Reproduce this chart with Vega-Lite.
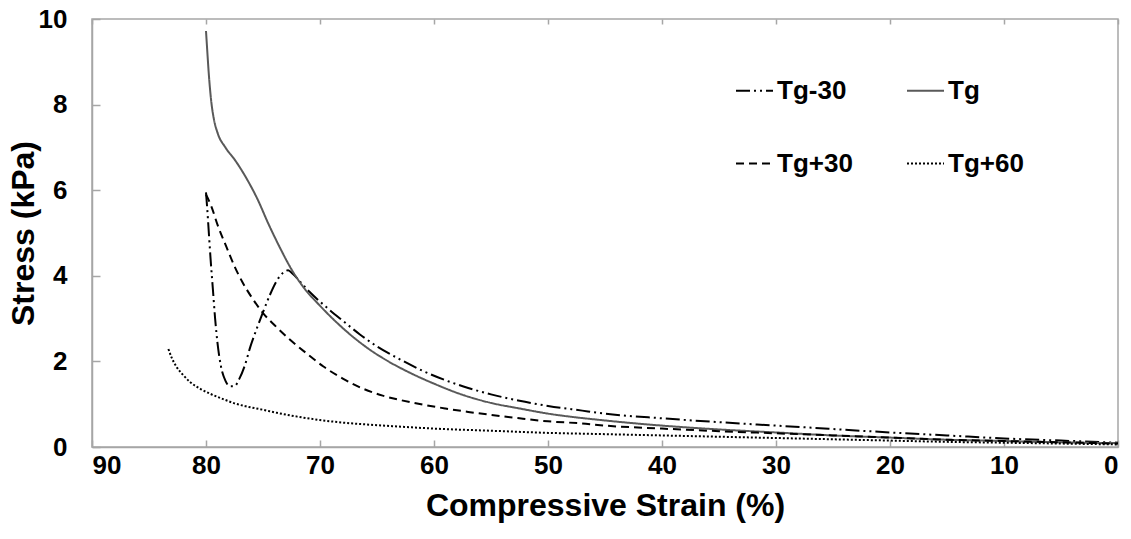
{
  "$schema": "https://vega.github.io/schema/vega-lite/v6.json",
  "width": 1026,
  "height": 428,
  "autosize": {"type": "none"},
  "padding": {"left": 92, "top": 19, "right": 13, "bottom": 92},
  "background": "white",
  "config": {
    "font": "Liberation Sans",
    "view": {"stroke": "#a6a6a6", "strokeWidth": 1.5},
    "axis": {
      "grid": false,
      "domainColor": "#a6a6a6",
      "domainWidth": 1.5,
      "tickColor": "#a6a6a6",
      "tickWidth": 1.5,
      "labelFont": "Liberation Sans",
      "labelFontWeight": "bold",
      "labelFontSize": 26,
      "labelColor": "#000000",
      "titleFont": "Liberation Sans",
      "titleFontWeight": "bold",
      "titleFontSize": 32,
      "titleColor": "#000000"
    },
    "legend": {
      "orient": "none",
      "legendX": 643,
      "legendY": 52,
      "columns": 2,
      "columnPadding": 50,
      "rowPadding": 40,
      "padding": 0,
      "symbolType": "stroke",
      "symbolSize": 1369,
      "labelOffset": 3,
      "labelFont": "Liberation Sans",
      "labelFontWeight": "bold",
      "labelFontSize": 26,
      "labelColor": "#000000",
      "labelLimit": 300
    }
  },
  "data": {
    "values": [
      {"s": "Tg-30", "i": 0, "x": 80.0, "y": 5.95},
      {"s": "Tg-30", "i": 1, "x": 79.9, "y": 5.6},
      {"s": "Tg-30", "i": 2, "x": 79.75, "y": 5.0},
      {"s": "Tg-30", "i": 3, "x": 79.6, "y": 4.4},
      {"s": "Tg-30", "i": 4, "x": 79.4, "y": 3.7},
      {"s": "Tg-30", "i": 5, "x": 79.2, "y": 3.0},
      {"s": "Tg-30", "i": 6, "x": 79.0, "y": 2.45},
      {"s": "Tg-30", "i": 7, "x": 78.7, "y": 1.9},
      {"s": "Tg-30", "i": 8, "x": 78.3, "y": 1.55},
      {"s": "Tg-30", "i": 9, "x": 77.9, "y": 1.42},
      {"s": "Tg-30", "i": 10, "x": 77.5, "y": 1.42},
      {"s": "Tg-30", "i": 11, "x": 77.1, "y": 1.58},
      {"s": "Tg-30", "i": 12, "x": 76.6, "y": 1.9},
      {"s": "Tg-30", "i": 13, "x": 76.1, "y": 2.35},
      {"s": "Tg-30", "i": 14, "x": 75.5, "y": 2.8},
      {"s": "Tg-30", "i": 15, "x": 75.0, "y": 3.15},
      {"s": "Tg-30", "i": 16, "x": 74.4, "y": 3.55},
      {"s": "Tg-30", "i": 17, "x": 73.8, "y": 3.88},
      {"s": "Tg-30", "i": 18, "x": 73.2, "y": 4.08},
      {"s": "Tg-30", "i": 19, "x": 72.8, "y": 4.13},
      {"s": "Tg-30", "i": 20, "x": 72.4, "y": 4.05},
      {"s": "Tg-30", "i": 21, "x": 71.7, "y": 3.85},
      {"s": "Tg-30", "i": 22, "x": 70.9, "y": 3.62},
      {"s": "Tg-30", "i": 23, "x": 69.5, "y": 3.28},
      {"s": "Tg-30", "i": 24, "x": 68.0, "y": 2.95},
      {"s": "Tg-30", "i": 25, "x": 66.5, "y": 2.63},
      {"s": "Tg-30", "i": 26, "x": 65.0, "y": 2.35},
      {"s": "Tg-30", "i": 27, "x": 63.0, "y": 2.05},
      {"s": "Tg-30", "i": 28, "x": 61.0, "y": 1.78},
      {"s": "Tg-30", "i": 29, "x": 59.0, "y": 1.56},
      {"s": "Tg-30", "i": 30, "x": 57.0, "y": 1.38},
      {"s": "Tg-30", "i": 31, "x": 55.0, "y": 1.23},
      {"s": "Tg-30", "i": 32, "x": 52.5, "y": 1.08},
      {"s": "Tg-30", "i": 33, "x": 50.0, "y": 0.96},
      {"s": "Tg-30", "i": 34, "x": 47.0, "y": 0.85},
      {"s": "Tg-30", "i": 35, "x": 45.0, "y": 0.78},
      {"s": "Tg-30", "i": 36, "x": 40.0, "y": 0.67},
      {"s": "Tg-30", "i": 37, "x": 35.0, "y": 0.58},
      {"s": "Tg-30", "i": 38, "x": 30.0, "y": 0.5},
      {"s": "Tg-30", "i": 39, "x": 25.0, "y": 0.42},
      {"s": "Tg-30", "i": 40, "x": 20.0, "y": 0.34},
      {"s": "Tg-30", "i": 41, "x": 15.0, "y": 0.27},
      {"s": "Tg-30", "i": 42, "x": 10.0, "y": 0.2},
      {"s": "Tg-30", "i": 43, "x": 5.0, "y": 0.15},
      {"s": "Tg-30", "i": 44, "x": 0.0, "y": 0.1},

      {"s": "Tg", "i": 0, "x": 80.0, "y": 9.72},
      {"s": "Tg", "i": 1, "x": 79.9, "y": 9.3},
      {"s": "Tg", "i": 2, "x": 79.75, "y": 8.7},
      {"s": "Tg", "i": 3, "x": 79.55, "y": 8.1},
      {"s": "Tg", "i": 4, "x": 79.3, "y": 7.65},
      {"s": "Tg", "i": 5, "x": 79.0, "y": 7.35},
      {"s": "Tg", "i": 6, "x": 78.3, "y": 7.0},
      {"s": "Tg", "i": 7, "x": 77.5, "y": 6.72},
      {"s": "Tg", "i": 8, "x": 76.5, "y": 6.3},
      {"s": "Tg", "i": 9, "x": 75.5, "y": 5.8},
      {"s": "Tg", "i": 10, "x": 74.5, "y": 5.2},
      {"s": "Tg", "i": 11, "x": 73.5, "y": 4.65},
      {"s": "Tg", "i": 12, "x": 72.5, "y": 4.15},
      {"s": "Tg", "i": 13, "x": 71.5, "y": 3.75},
      {"s": "Tg", "i": 14, "x": 70.0, "y": 3.3},
      {"s": "Tg", "i": 15, "x": 68.5, "y": 2.9},
      {"s": "Tg", "i": 16, "x": 67.0, "y": 2.55},
      {"s": "Tg", "i": 17, "x": 65.5, "y": 2.25},
      {"s": "Tg", "i": 18, "x": 64.0, "y": 2.0},
      {"s": "Tg", "i": 19, "x": 62.0, "y": 1.72},
      {"s": "Tg", "i": 20, "x": 60.0, "y": 1.48},
      {"s": "Tg", "i": 21, "x": 57.5, "y": 1.22},
      {"s": "Tg", "i": 22, "x": 55.0, "y": 1.03},
      {"s": "Tg", "i": 23, "x": 52.5, "y": 0.9},
      {"s": "Tg", "i": 24, "x": 50.0, "y": 0.78},
      {"s": "Tg", "i": 25, "x": 45.0, "y": 0.62},
      {"s": "Tg", "i": 26, "x": 40.0, "y": 0.5},
      {"s": "Tg", "i": 27, "x": 35.0, "y": 0.41},
      {"s": "Tg", "i": 28, "x": 30.0, "y": 0.34},
      {"s": "Tg", "i": 29, "x": 25.0, "y": 0.27},
      {"s": "Tg", "i": 30, "x": 20.0, "y": 0.22},
      {"s": "Tg", "i": 31, "x": 15.0, "y": 0.17},
      {"s": "Tg", "i": 32, "x": 10.0, "y": 0.14},
      {"s": "Tg", "i": 33, "x": 5.0, "y": 0.11},
      {"s": "Tg", "i": 34, "x": 0.0, "y": 0.09},

      {"s": "Tg+30", "i": 0, "x": 80.0, "y": 5.9},
      {"s": "Tg+30", "i": 1, "x": 79.5, "y": 5.6},
      {"s": "Tg+30", "i": 2, "x": 79.0, "y": 5.2},
      {"s": "Tg+30", "i": 3, "x": 78.2, "y": 4.67},
      {"s": "Tg+30", "i": 4, "x": 77.5, "y": 4.22},
      {"s": "Tg+30", "i": 5, "x": 76.8, "y": 3.85},
      {"s": "Tg+30", "i": 6, "x": 76.0, "y": 3.5},
      {"s": "Tg+30", "i": 7, "x": 75.0, "y": 3.13},
      {"s": "Tg+30", "i": 8, "x": 74.0, "y": 2.85},
      {"s": "Tg+30", "i": 9, "x": 72.6, "y": 2.5},
      {"s": "Tg+30", "i": 10, "x": 71.0, "y": 2.15},
      {"s": "Tg+30", "i": 11, "x": 69.7, "y": 1.88},
      {"s": "Tg+30", "i": 12, "x": 68.0, "y": 1.6},
      {"s": "Tg+30", "i": 13, "x": 66.2, "y": 1.36},
      {"s": "Tg+30", "i": 14, "x": 64.5, "y": 1.2},
      {"s": "Tg+30", "i": 15, "x": 63.0, "y": 1.1},
      {"s": "Tg+30", "i": 16, "x": 61.0, "y": 0.99},
      {"s": "Tg+30", "i": 17, "x": 59.0, "y": 0.9},
      {"s": "Tg+30", "i": 18, "x": 57.0, "y": 0.82},
      {"s": "Tg+30", "i": 19, "x": 55.0, "y": 0.75},
      {"s": "Tg+30", "i": 20, "x": 52.5, "y": 0.67},
      {"s": "Tg+30", "i": 21, "x": 50.0, "y": 0.6},
      {"s": "Tg+30", "i": 22, "x": 47.0, "y": 0.55},
      {"s": "Tg+30", "i": 23, "x": 45.0, "y": 0.5},
      {"s": "Tg+30", "i": 24, "x": 40.0, "y": 0.43},
      {"s": "Tg+30", "i": 25, "x": 35.0, "y": 0.37},
      {"s": "Tg+30", "i": 26, "x": 30.0, "y": 0.32},
      {"s": "Tg+30", "i": 27, "x": 25.0, "y": 0.27},
      {"s": "Tg+30", "i": 28, "x": 20.0, "y": 0.22},
      {"s": "Tg+30", "i": 29, "x": 15.0, "y": 0.17},
      {"s": "Tg+30", "i": 30, "x": 10.0, "y": 0.14},
      {"s": "Tg+30", "i": 31, "x": 5.0, "y": 0.11},
      {"s": "Tg+30", "i": 32, "x": 0.0, "y": 0.08},

      {"s": "Tg+60", "i": 0, "x": 83.3, "y": 2.29},
      {"s": "Tg+60", "i": 1, "x": 83.0, "y": 2.08},
      {"s": "Tg+60", "i": 2, "x": 82.6, "y": 1.88},
      {"s": "Tg+60", "i": 3, "x": 82.0, "y": 1.68},
      {"s": "Tg+60", "i": 4, "x": 81.4, "y": 1.52},
      {"s": "Tg+60", "i": 5, "x": 80.5, "y": 1.36},
      {"s": "Tg+60", "i": 6, "x": 79.6, "y": 1.24},
      {"s": "Tg+60", "i": 7, "x": 78.5, "y": 1.12},
      {"s": "Tg+60", "i": 8, "x": 77.5, "y": 1.02},
      {"s": "Tg+60", "i": 9, "x": 76.5, "y": 0.95},
      {"s": "Tg+60", "i": 10, "x": 75.0, "y": 0.87},
      {"s": "Tg+60", "i": 11, "x": 73.8, "y": 0.8},
      {"s": "Tg+60", "i": 12, "x": 72.0, "y": 0.71},
      {"s": "Tg+60", "i": 13, "x": 70.0, "y": 0.63},
      {"s": "Tg+60", "i": 14, "x": 68.0, "y": 0.57},
      {"s": "Tg+60", "i": 15, "x": 65.0, "y": 0.51},
      {"s": "Tg+60", "i": 16, "x": 62.0, "y": 0.46},
      {"s": "Tg+60", "i": 17, "x": 60.0, "y": 0.43},
      {"s": "Tg+60", "i": 18, "x": 55.0, "y": 0.38},
      {"s": "Tg+60", "i": 19, "x": 50.0, "y": 0.33},
      {"s": "Tg+60", "i": 20, "x": 45.0, "y": 0.3},
      {"s": "Tg+60", "i": 21, "x": 40.0, "y": 0.27},
      {"s": "Tg+60", "i": 22, "x": 35.0, "y": 0.24},
      {"s": "Tg+60", "i": 23, "x": 30.0, "y": 0.21},
      {"s": "Tg+60", "i": 24, "x": 25.0, "y": 0.18},
      {"s": "Tg+60", "i": 25, "x": 20.0, "y": 0.15},
      {"s": "Tg+60", "i": 26, "x": 15.0, "y": 0.12},
      {"s": "Tg+60", "i": 27, "x": 10.0, "y": 0.1},
      {"s": "Tg+60", "i": 28, "x": 5.0, "y": 0.08},
      {"s": "Tg+60", "i": 29, "x": 0.0, "y": 0.06}
    ]
  },
  "layer": [
    {
      "mark": {"type": "line", "interpolate": "monotone", "strokeCap": "butt"},
      "encoding": {
        "x": {
          "field": "x", "type": "quantitative",
          "scale": {"domain": [0, 90], "reverse": true, "nice": false},
          "axis": {
            "orient": "bottom",
            "values": [0, 10, 20, 30, 40, 50, 60, 70, 80, 90],
            "tickSize": -7,
            "labelPadding": 12,
            "title": "Compressive Strain (%)",
            "titlePadding": 12
          }
        },
        "y": {
          "field": "y", "type": "quantitative",
          "scale": {"domain": [0, 10], "nice": false},
          "axis": {
            "values": [0, 2, 4, 6, 8, 10],
            "tickSize": -8,
            "labelPadding": 33,
            "title": "Stress (kPa)",
            "titlePadding": -2
          }
        },
        "order": {"field": "i", "type": "quantitative"},
        "strokeDash": {
          "field": "s", "type": "nominal", "title": null,
          "scale": {
            "domain": ["Tg-30", "Tg+30", "Tg", "Tg+60"],
            "range": [[14, 4, 2, 4, 2, 4], [8, 5], [1, 0], [2, 2]]
          }
        },
        "color": {
          "field": "s", "type": "nominal", "title": null,
          "scale": {
            "domain": ["Tg-30", "Tg+30", "Tg", "Tg+60"],
            "range": ["#000000", "#000000", "#595959", "#000000"]
          }
        },
        "strokeWidth": {
          "field": "s", "type": "nominal", "title": null,
          "scale": {
            "domain": ["Tg-30", "Tg+30", "Tg", "Tg+60"],
            "range": [2, 2, 1.2, 1.8]
          }
        }
      }
    },
    {
      "mark": {"type": "line", "opacity": 0},
      "encoding": {
        "x": {
          "field": "x", "type": "quantitative",
          "axis": {
            "orient": "top",
            "values": [0, 10, 20, 30, 40, 50, 60, 70, 80, 90],
            "tickSize": -5,
            "labels": false,
            "domain": false,
            "title": null
          }
        },
        "y": {"field": "y", "type": "quantitative"},
        "detail": {"field": "s", "type": "nominal"}
      }
    }
  ]
}
